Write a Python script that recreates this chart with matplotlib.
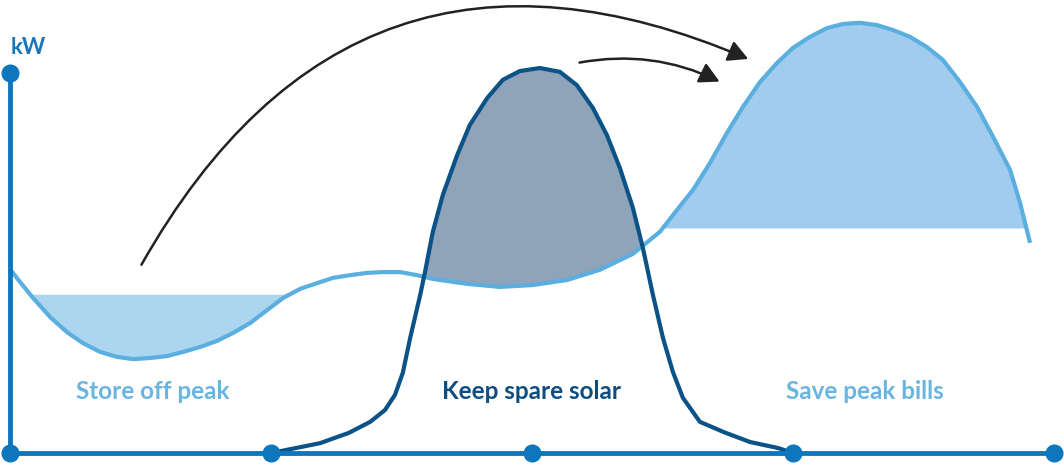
import numpy as np
import matplotlib
matplotlib.use("Agg")
from matplotlib import pyplot as plt
from matplotlib.patches import FancyArrowPatch

# Site load over the day (hour, kW)
load_t = [0.00, 0.23, 0.53, 0.92, 1.31, 1.68, 2.07, 2.46, 2.83, 3.22, 3.61, 3.98,
          4.37, 4.76, 5.13, 5.52, 5.91, 6.28, 6.67, 7.06, 7.43, 7.82, 8.21, 8.57,
          8.97, 9.36, 9.72, 10.51, 11.26, 12.02, 12.80, 13.56, 14.32, 14.94,
          15.33, 15.70, 16.09, 16.48, 16.85, 17.24, 17.63, 18.00, 18.39, 18.78,
          19.15, 19.54, 19.93, 20.30, 20.69, 21.08, 21.45, 21.84, 22.23, 22.60,
          22.99, 23.22, 23.45]
load_kw = [4.84, 4.50, 4.08, 3.58, 3.18, 2.89, 2.66, 2.53, 2.47, 2.50, 2.55, 2.66,
           2.79, 2.95, 3.16, 3.42, 3.76, 4.08, 4.32, 4.47, 4.61, 4.68, 4.74, 4.76,
           4.76, 4.68, 4.58, 4.45, 4.37, 4.42, 4.55, 4.82, 5.24, 5.82,
           6.39, 6.92, 7.63, 8.42, 9.11, 9.76, 10.26, 10.66, 10.95, 11.18,
           11.29, 11.32, 11.26, 11.13, 10.95, 10.68, 10.34, 9.76, 9.11, 8.32,
           7.45, 6.58, 5.53]

# Solar generation (hour, kW)
solar_t = [6.00, 6.57, 7.13, 7.79, 8.28, 8.62, 8.85, 9.03, 9.20, 9.43, 9.54, 9.72,
           9.95, 10.28, 10.57, 10.97, 11.33, 11.72, 12.18, 12.64, 13.03, 13.40,
           13.72, 14.02, 14.32, 14.55, 14.78, 15.01, 15.24, 15.47, 15.86, 16.41,
           17.01, 17.66, 18.00]
solar_kw = [0.00, 0.13, 0.26, 0.53, 0.82, 1.13, 1.53, 2.11, 3.03, 4.16, 4.76, 5.82,
            6.79, 7.84, 8.63, 9.34, 9.82, 10.05, 10.13, 10.03, 9.68, 9.08,
            8.37, 7.50, 6.45, 5.39, 4.16, 3.03, 2.13, 1.45, 0.82, 0.55,
            0.29, 0.13, 0.00]

hour_ticks = [0, 6, 12, 18, 24]
kw_top = 10
off_peak_level = 4.18
peak_level = 5.92

labels = ["Store off peak", "Keep spare solar", "Save peak bills"]
label_t = [3.29, 11.98, 19.66]
label_kw = 1.61

# arrows: (start, end) in (hour, kW)
arrow_big = [(2.99, 4.89), (17.03, 10.34)]
arrow_small = [(13.03, 10.26), (16.37, 9.74)]

c_axis = "#0e76bd"
c_load = "#5aafe0"
c_solar = "#0b5287"

load_t = np.array(load_t)
load_kw = np.array(load_kw)
solar_t = np.array(solar_t)
solar_kw = np.array(solar_kw)

fig = plt.figure(figsize=(10.64, 4.66), dpi=100)
ax = fig.add_axes([0, 0, 1, 1])
ax.set_xlim(-0.23, 24.23)
ax.set_ylim(-0.342, 11.92)
ax.axis("off")

# shaded areas
ax.fill_between(load_t, load_kw, off_peak_level, where=load_kw < off_peak_level,
                interpolate=True, color="#acd6ef", lw=0, zorder=1)
ax.fill_between(load_t, load_kw, peak_level, where=load_kw > peak_level,
                interpolate=True, color="#a2cced", lw=0, zorder=1)
load_on_solar = np.interp(solar_t, load_t, load_kw)
ax.fill_between(solar_t, solar_kw, load_on_solar, where=solar_kw > load_on_solar,
                interpolate=True, color="#8fa3b9", lw=0, zorder=1)

ax.plot(load_t, load_kw, color=c_load, lw=3, solid_capstyle="butt",
        solid_joinstyle="round", zorder=3)
ax.plot(solar_t, solar_kw, color=c_solar, lw=3, solid_joinstyle="round", zorder=4)

# axes with dots
ax.plot([0, 0], [0, kw_top], color=c_axis, lw=3.5, zorder=5)
ax.plot([hour_ticks[0], hour_ticks[-1]], [0, 0], color=c_axis, lw=3.5, zorder=5)
ax.plot(hour_ticks, [0] * len(hour_ticks), "o", color=c_axis, ms=12, zorder=6)
ax.plot([0], [kw_top], "o", color=c_axis, ms=12, zorder=6)

ax.text(0.41, 10.66, "kW", color="#1b75bb", fontsize=16, fontweight="bold",
        family="Lato", ha="center", va="center")

label_colors = ["#6ab4e0", "#0e4d80", "#6ab4e0"]
for lab, t, col in zip(labels, label_t, label_colors):
    ax.text(t, label_kw, lab, color=col, fontsize=17.5, fontweight="bold",
            family="Lato", ha="center", va="center")

for (p0, p1), rad in [(arrow_big, -0.45), (arrow_small, -0.17)]:
    arr = FancyArrowPatch(p0, p1, connectionstyle=f"arc3,rad={rad}",
                          arrowstyle="-|>,head_length=0.6,head_width=0.32",
                          mutation_scale=20, color="#222222", lw=1.8, zorder=7)
    ax.add_patch(arr)

fig.savefig("out.png", dpi=100)
